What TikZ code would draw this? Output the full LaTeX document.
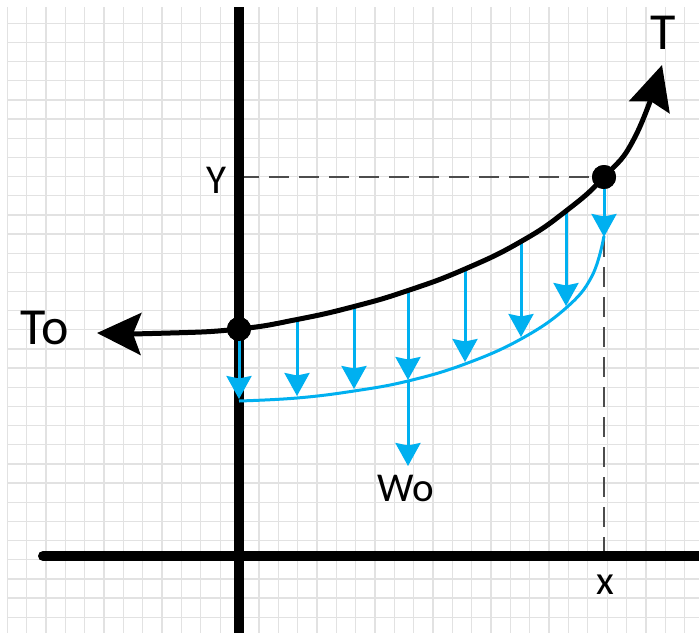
\documentclass[tikz,border=0pt]{standalone}
\usepackage{fontspec}
\setmainfont{Carlito}
\usetikzlibrary{arrows.meta,positioning}
\definecolor{cableBlue}{HTML}{00B0F0}
\definecolor{gridGray}{HTML}{E2E2E2}

\begin{document}
\begin{tikzpicture}[
  x=1pt, y=-1pt,
  grid line/.style={gridGray, line width=1.3pt},
  axis/.style={black, line width=10pt},
  cable/.style={black, line width=5pt, {Stealth[length=44pt, width=42pt, inset=8pt]}-{Stealth[length=44pt, width=42pt, inset=6pt]}},
  load/.style={cableBlue, line width=3pt, -{Stealth[length=23pt, width=25pt, inset=2.5pt]}},
  guide/.style={black!70, line width=1.5pt, dash pattern=on 20pt off 10pt},
  pin/.style={circle, fill=black, inner sep=0pt, minimum size=24pt},
  lbl/.style={inner sep=0pt, font=\fontsize{41}{41}\selectfont},
  big lbl/.style={inner sep=0pt, font=\fontsize{52}{52}\selectfont}
]
  \useasboundingbox (0,0) rectangle (699,633);
  \fill[white] (0,0) rectangle (699,633);

  % grid paper
  \begin{scope}
    \clip (7,7) rectangle (699,633);
    \foreach \gx in {0,...,36}
      \draw[grid line] (7.3+19.35*\gx,0) -- (7.3+19.35*\gx,633);
    \foreach \gy in {0,...,33}
      \draw[grid line] (0,4.1+19.16*\gy) -- (699,4.1+19.16*\gy);
  \end{scope}

  % points
  \coordinate (yA) at (239,177);
  \coordinate (xA) at (604,556);
  \node[pin] (lo) at (239,329) {};
  \node[pin] (hi) at (604,177) {};

  % dashed guides
  \draw[guide] (yA) -- (hi.center);
  \draw[guide] (hi.center) -- (xA);

  % axes
  \draw[axis, line cap=round] (43,556) -- (699,556);
  \draw[axis] (239,7) -- (239,633);

  % load curve
  \draw[cableBlue, line width=3pt] plot[smooth, tension=0.7] coordinates
    {(239,401) (297,398) (354,391) (408,381) (465,364) (521,339) (566,308) (592,276) (604,236)};
  \foreach \px/\ptop/\pbot in {239/329/399, 297/319/396, 354/306/389, 465/269/362, 521/241/337, 566/211/306, 604/177/237}
    \draw[load] (\px,\ptop) -- (\px,\pbot);
  \coordinate (wTop) at (408,290);
  \coordinate (wMid) at (408,380);
  \coordinate (wEnd) at (408,466);
  \draw[load] (wTop) -- (wMid);
  \draw[load] (wMid) -- (wEnd);

  % cable
  \draw[cable] plot[smooth, tension=0.8] coordinates
    {(97,333) (170,333) (239,329) (297,319.5) (354,306.5) (408,290.5) (465,269) (521,241.5) (566,211) (604,177) (635,137) (662,65)};
  \node[pin] at (lo) {};
  \node[pin] at (hi) {};

  % labels
  \node[big lbl] (toLbl) at (45,328) {To};
  \node[big lbl] (tLbl) at (663,33) {T};
  \node[lbl] (yLbl) at (216,180) {Y};
  \node[lbl] (xLbl) at (605,585) {x};
  \node[lbl] (woLbl) at (406,488) {Wo};
\end{tikzpicture}
\end{document}
